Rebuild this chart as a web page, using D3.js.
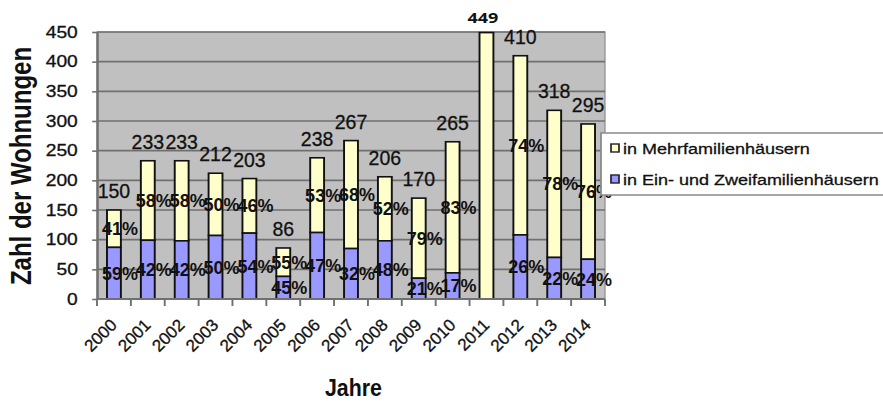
<!DOCTYPE html>
<html>
<head>
<meta charset="utf-8">
<script src="https://cdn.jsdelivr.net/npm/d3@7"></script>
<style>
  html, body { margin: 0; padding: 0; background: #fff; }
  svg { display: block; font-family: "Liberation Sans", Arial, sans-serif; }
  .soft { stroke: #111; stroke-width: 0.3px; }
</style>
</head>
<body>
<script>
const years = ["2000", "2001", "2002", "2003", "2004", "2005", "2006", "2007",
  "2008", "2009", "2010", "2011", "2012", "2013", "2014"];
const totals = [150, 233, 233, 212, 203, 86, 238, 267, 206, 170, 265, 449, 410, 318, 295];
const einZwei = [87, 99, 98, 107, 111, 38, 112, 85, 98, 35, 44, 0, 108, 70, 67];
const mehrPct = ["41%", "58%", "58%", "50%", "46%", "55%", "53%", "68%", "52%", "79%",
  "83%", null, "74%", "78%", "76%"];
const einPct = ["59%", "42%", "42%", "50%", "54%", "45%", "47%", "32%", "48%", "21%",
  "17%", null, "26%", "22%", "24%"];
const yTicks = [0, 50, 100, 150, 200, 250, 300, 350, 400, 450];
const seriesNames = ["in Mehrfamilienhäusern", "in Ein- und Zweifamilienhäusern"];
const seriesColors = ["#ffffcc", "#9999ff"];

const width = 883;
const height = 401;
// the source picture is stretched sideways, so draw narrower and stretch;
// some of its labels were not stretched, those get undone below
const stretch = 1.2;
const unstretch = `scale(${1 / stretch},1)`;
const vbWidth = width / stretch;
const plot = { left: 97 / stretch, right: 605 / stretch, top: 32, bottom: 299 };

const svg = d3.select("body")
  .append("svg")
  .attr("width", width)
  .attr("height", height)
  .attr("viewBox", [0, 0, vbWidth, height])
  .attr("preserveAspectRatio", "none");

const x = d3.scaleBand().domain(years).range([plot.left, plot.right]).padding(0);
const y = d3.scaleLinear().domain([0, 450]).range([plot.bottom, plot.top]);
const bw = x.bandwidth();
const barW = bw * 0.41;
const barX = d => x(d) + (bw - barW) / 2;
const mid = d => x(d) + bw / 2;

// plot background
svg.append("rect")
  .attr("x", plot.left)
  .attr("y", plot.top)
  .attr("width", plot.right - plot.left)
  .attr("height", plot.bottom - plot.top)
  .attr("fill", "#c0c0c0")
  .attr("stroke", "#8a8a8a")
  .attr("stroke-width", 1);

// grid
svg.append("g")
  .selectAll("line")
  .data(yTicks.filter(t => t > 0))
  .join("line")
  .attr("x1", plot.left)
  .attr("x2", plot.right)
  .attr("y1", d => y(d))
  .attr("y2", d => y(d))
  .attr("stroke", "#707070")
  .attr("stroke-width", 1.6);

// y axis
const yAxis = svg.append("g")
  .attr("transform", `translate(${plot.left},0)`)
  .call(d3.axisLeft(y).tickValues(yTicks).tickSize(4).tickSizeOuter(0).tickPadding(12));
yAxis.select(".domain").attr("stroke", "#707070").attr("stroke-width", 2);
yAxis.selectAll(".tick line").attr("stroke", "#707070").attr("stroke-width", 1.6);
yAxis.selectAll(".tick text")
  .attr("class", "soft")
  .attr("font-size", 16)
  .attr("font-family", "'Liberation Sans', Arial, sans-serif")
  .attr("fill", "#111");

// bars
const rows = years.map((yr, i) => ({ yr, i, total: totals[i], low: einZwei[i] }));
const bars = svg.append("g")
  .attr("stroke", "#111")
  .attr("stroke-width", 1.6);

bars.selectAll("rect.mehr")
  .data(rows)
  .join("rect")
  .attr("class", "mehr")
  .attr("x", d => barX(d.yr))
  .attr("width", barW)
  .attr("y", d => y(d.total))
  .attr("height", d => y(d.low) - y(d.total))
  .attr("fill", seriesColors[0]);

bars.selectAll("rect.ein")
  .data(rows.filter(d => d.low > 0))
  .join("rect")
  .attr("class", "ein")
  .attr("x", d => barX(d.yr))
  .attr("width", barW)
  .attr("y", d => y(d.low))
  .attr("height", d => y(0) - y(d.low))
  .attr("fill", seriesColors[1]);

// x axis line and ticks at category borders
svg.append("line")
  .attr("x1", plot.left)
  .attr("x2", plot.right)
  .attr("y1", plot.bottom)
  .attr("y2", plot.bottom)
  .attr("stroke", "#707070")
  .attr("stroke-width", 2);

svg.append("g")
  .selectAll("line")
  .data(years.map(d => x(d)).concat([plot.right]))
  .join("line")
  .attr("x1", d => d)
  .attr("x2", d => d)
  .attr("y1", plot.bottom)
  .attr("y2", plot.bottom + 7)
  .attr("stroke", "#707070")
  .attr("stroke-width", 1.6);

svg.append("g")
  .selectAll("text")
  .data(years)
  .join("text")
  .attr("class", "soft")
  .attr("transform", d => `translate(${mid(d) + 4 / stretch},326) ${unstretch} rotate(-45)`)
  .attr("text-anchor", "end")
  .attr("font-size", 17)
  .attr("fill", "#111")
  .text(d => d);

// labels
const labels = svg.append("g").attr("fill", "#111");

labels.selectAll("text.total")
  .data(rows.filter(d => d.yr !== "2011"))
  .join("text")
  .attr("class", "total soft")
  .attr("transform", d => `translate(${mid(d.yr)},${y(d.total) - 12}) ${unstretch}`)
  .attr("text-anchor", "middle")
  .attr("font-size", 19.5)
  .text(d => d.total);

labels.selectAll("text.mpct")
  .data(rows.filter(d => mehrPct[d.i]))
  .join("text")
  .attr("class", "mpct")
  .attr("transform", d =>
    `translate(${mid(d.yr) + 6 / stretch},${y((d.total + d.low) / 2) + 6.5}) ${unstretch}`)
  .attr("text-anchor", "middle")
  .attr("font-size", 18)
  .attr("font-weight", "bold")
  .text(d => mehrPct[d.i]);

labels.selectAll("text.epct")
  .data(rows.filter(d => einPct[d.i]))
  .join("text")
  .attr("class", "epct")
  .attr("transform", d =>
    `translate(${mid(d.yr) + 6 / stretch},${y(d.low / 2) + 6.5}) ${unstretch}`)
  .attr("text-anchor", "middle")
  .attr("font-size", 18)
  .attr("font-weight", "bold")
  .text(d => einPct[d.i]);

// the 449 label sits above the plot in bold
svg.append("text")
  .attr("x", mid("2011") - 3)
  .attr("y", 23)
  .attr("text-anchor", "middle")
  .attr("font-family", "'Open Sans', sans-serif")
  .attr("font-weight", "bold")
  .attr("font-size", 15)
  .attr("fill", "#111")
  .text(totals[11]);

// axis titles
svg.append("text")
  .attr("transform", `translate(${31 / stretch},166) rotate(-90)`)
  .attr("text-anchor", "middle")
  .attr("font-weight", "bold")
  .attr("font-size", 24)
  .attr("fill", "#111")
  .text("Zahl der Wohnungen");

svg.append("text")
  .attr("x", 353.5 / stretch)
  .attr("y", 396)
  .attr("text-anchor", "middle")
  .attr("font-weight", "bold")
  .attr("font-size", 23)
  .attr("textLength", 57 / stretch)
  .attr("lengthAdjust", "spacingAndGlyphs")
  .attr("fill", "#111")
  .text("Jahre");

// legend
const legend = svg.append("g");
legend.append("rect")
  .attr("x", 601 / stretch)
  .attr("y", 133)
  .attr("width", vbWidth)
  .attr("height", 62)
  .attr("fill", "#fff")
  .attr("stroke", "#8a8a8a")
  .attr("stroke-width", 1.5);

const items = legend.selectAll("g.item")
  .data(seriesNames)
  .join("g")
  .attr("class", "item")
  .attr("transform", (d, i) => `translate(0,${i === 0 ? 148 : 179})`);

items.append("rect")
  .attr("x", 611 / stretch)
  .attr("y", -4)
  .attr("width", 8 / stretch)
  .attr("height", 8)
  .attr("fill", (d, i) => seriesColors[i])
  .attr("stroke", "#222")
  .attr("stroke-width", 1.4);

items.append("text")
  .attr("class", "soft")
  .attr("x", 623 / stretch)
  .attr("y", 5.5)
  .attr("font-size", 15)
  .attr("fill", "#111")
  .text(d => d);
</script>
</body>
</html>
